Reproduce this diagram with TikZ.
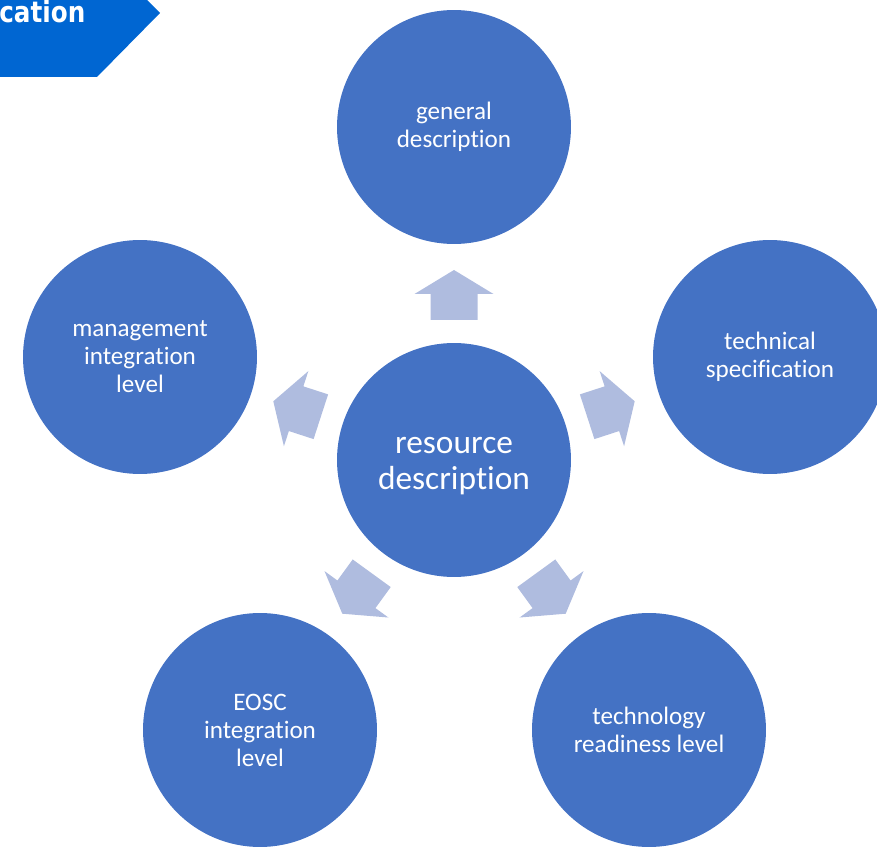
\documentclass[tikz,border=0pt]{standalone}
\usepackage{fontspec}
\setmainfont{Carlito}[Ligatures=NoCommon]
\newfontfamily\bannerfont{DejaVu Sans}[FakeStretch=0.85]
\usetikzlibrary{calc}
\definecolor{circblue}{RGB}{68,114,196}
\definecolor{arrowblue}{RGB}{175,188,223}
\definecolor{bannerblue}{RGB}{0,102,210}

\begin{document}
\begin{tikzpicture}[x=0.02cm, y=-0.02cm,
  every node/.style={circle, fill=circblue, text=white, inner sep=0pt, minimum size=4.68cm, align=center, font=\fontsize{14.3}{15.9}\selectfont}]
  \useasboundingbox (0,0) rectangle (877,848);
  \clip (0,0) rectangle (877,848);

  % banner, cut at the page corner
  \fill[bannerblue] (-10,-51) -- (97,-51) -- (160,13) -- (97,77) -- (-10,77) -- cycle;
  \node[rectangle, fill=none, minimum size=0pt, anchor=base west, font=\bannerfont\bfseries\fontsize{16.5}{18}\selectfont] (banner) at (-1,23) {cation};

  \node[font=\fontsize{19}{20.4}\selectfont] (c) at (454,460) {\\[-4pt]resource\\description};

  \node (gen) at (454,127) {general\\description};
  \node (tech) at (770,357) {technical\\specification};
  \node (trl) at (649,730) {technology\\readiness level};
  \node (eosc) at (260,730) {EOSC\\integration\\level};
  \node (mgmt) at (140,357) {management\\integration\\level};

  \foreach \a in {-90,-18,54,126,198}
    \fill[arrowblue] ($(c)+(\a:140)+(\a+90:23.5)$) -- ($(c)+(\a:166)+(\a+90:23.5)$)
      -- ($(c)+(\a:166)+(\a+90:39.5)$) -- ($(c)+(\a:190)$)
      -- ($(c)+(\a:166)+(\a-90:39.5)$) -- ($(c)+(\a:166)+(\a-90:23.5)$)
      -- ($(c)+(\a:140)+(\a-90:23.5)$) -- cycle;
\end{tikzpicture}
\end{document}
